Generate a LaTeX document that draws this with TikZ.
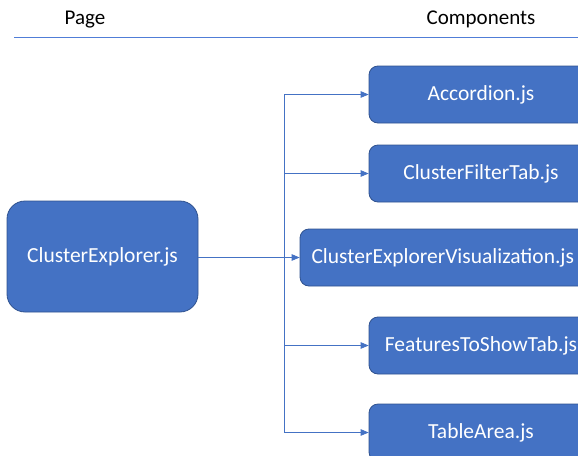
\documentclass[tikz,border=0pt]{standalone}
\usepackage{fontspec}
\setmainfont{Carlito}
\usetikzlibrary{positioning}
\usetikzlibrary{arrows}
\definecolor{BoxBlue}{RGB}{68,114,196}
\definecolor{EdgeBlue}{RGB}{47,82,143}
\definecolor{RuleBlue}{RGB}{80,125,215}
\tikzset{
every picture/.style={line width=0.8pt},
pagenode/.style={rectangle, rounded corners=18pt, draw=EdgeBlue, fill=BoxBlue, text=white, font=\fontsize{21.5}{25}\selectfont, minimum width=191pt, minimum height=111pt},
compnode/.style={rectangle, rounded corners=9pt, draw=EdgeBlue, fill=BoxBlue, text=white, font=\fontsize{21.5}{25}\selectfont, minimum width=224pt, minimum height=57pt},
headnode/.style={font=\fontsize{21}{25}\selectfont},
link/.style={draw=BoxBlue, -triangle 45}
}

\begin{document}
\begin{tikzpicture}[x=1pt, y=-1pt]
\useasboundingbox (0,0) rectangle (578,455);
%Headers
\node [headnode] (page) at (85,19.5) {Page};
\node [headnode] (comps) at (481,19.5) {Components};
\coordinate (ruleL) at (14,37);
\coordinate (ruleR) at (578,37);
\draw [RuleBlue] (ruleL) -- (ruleR);

%Nodes
\node [pagenode] (explorer) at (102.5,256.5) {ClusterExplorer.js};
\node [compnode] (accordion) at (481,94.5) {Accordion.js};
\node [compnode] (filtertab) at (481,173.5) {ClusterFilterTab.js};
\node [compnode, minimum width=303pt, text width=280pt, align=left] (visual) at (451.5,257.5) {ClusterExplorerVisualization.js};
\node [compnode] (features) at (481,345.5) {FeaturesToShowTab.js};
\node [compnode] (tablearea) at (481,432.5) {TableArea.js};

%Lines
\coordinate (split) at (284,257.5);
\draw [link] (explorer.east |- split) -- (visual.west);
\draw [draw=BoxBlue] (split |- accordion.west) -- (split |- tablearea.west);
\draw [link] (split |- accordion.west) -- (accordion.west);
\draw [link] (split |- filtertab.west) -- (filtertab.west);
\draw [link] (split |- features.west) -- (features.west);
\draw [link] (split |- tablearea.west) -- (tablearea.west);

\end{tikzpicture}
\end{document}
